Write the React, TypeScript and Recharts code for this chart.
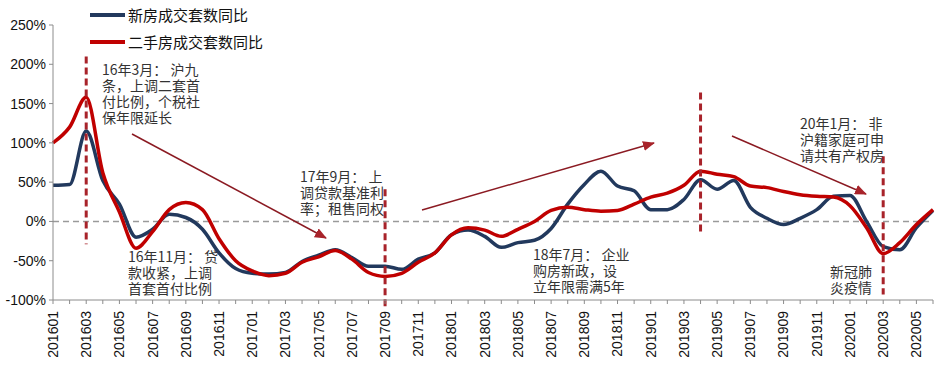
import React from 'react';
import { LineChart, Line, XAxis, YAxis, ReferenceLine } from 'recharts';

const months = [
  '201601', '201602', '201603', '201604', '201605', '201606', '201607', '201608', '201609', '201610', '201611', '201612',
  '201701', '201702', '201703', '201704', '201705', '201706', '201707', '201708', '201709', '201710', '201711', '201712',
  '201801', '201802', '201803', '201804', '201805', '201806', '201807', '201808', '201809', '201810', '201811', '201812',
  '201901', '201902', '201903', '201904', '201905', '201906', '201907', '201908', '201909', '201910', '201911', '201912',
  '202001', '202002', '202003', '202004', '202005', '202006',
];

// 新房成交套数同比 (%)
const newHouse = [
  46, 47, 115, 52, 22, -20, -10, 9, 5, -10, -40, -60,
  -66, -67, -65, -51, -43, -36, -46, -57, -57, -61, -48, -40,
  -17, -11, -19, -33, -27, -24, -9, 22, 47, 64, 45, 39,
  15, 15, 28, 53, 41, 52, 18, 4, -4, 4, 15, 32,
  33, 0, -32, -36, -8, 14,
];

// 二手房成交套数同比 (%)
const secondHand = [
  100, 120, 158, 62, 12, -34, -13, 15, 24, 15, -22, -50,
  -63, -69, -66, -52, -45, -37, -48, -65, -70, -66, -52, -40,
  -17, -8, -11, -19, -10, 0, 14, 18, 15, 13, 14, 22,
  31, 36, 46, 64, 60, 57, 45, 43, 38, 34, 32, 31,
  20, -8, -41, -27, -4, 15,
];

const yTicks = [-100, -50, 0, 50, 100, 150, 200, 250];

const seriesNames = ['新房成交套数同比', '二手房成交套数同比'];

// policy event markers: month, top value, bottom value
const eventLines = [
  { month: '201603', top: 210, bottom: -29 },
  { month: '201709', top: 41, bottom: -110 },
  { month: '201904', top: 164, bottom: -17 },
  { month: '202003', top: 83, bottom: -93 },
];

const notes = [
  { x: 102, y: 75, lines: ['16年3月： 沪九', '条，上调二套首', '付比例，个税社', '保年限延长'] },
  { x: 128, y: 262, lines: ['16年11月： 贷', '款收紧，上调', '首套首付比例'] },
  { x: 300, y: 182, lines: ['17年9月： 上', '调贷款基准利', '率；租售同权'] },
  { x: 533, y: 260, lines: ['18年7月： 企业', '购房新政，设', '立年限需满5年'] },
  { x: 800, y: 129, lines: ['20年1月： 非', '沪籍家庭可申', '请共有产权房'] },
  { x: 830, y: 277, lines: ['新冠肺', '炎疫情'] },
];

const arrows = [
  { x1: 132, y1: 134, x2: 326, y2: 238 },
  { x1: 422, y1: 210, x2: 654, y2: 143 },
  { x1: 732, y1: 136, x2: 866, y2: 194 },
];

const BLUE = '#22395d';
const RED = '#c00000';
const EVENT = '#a8232a';
const AXIS = '#8c8c8c';

const data = months.map((m, i) => ({ month: m, newHouse: newHouse[i], secondHand: secondHand[i] }));

const XTick = ({ x, y, payload }: any) => {
  if (months.indexOf(payload.value) % 2 !== 0) return null;
  const ty = y + 5;
  return (
    <text x={x} y={ty} transform={`rotate(-90 ${x} ${ty})`} textAnchor="end" dy="0.35em"
      fontSize={14} fontFamily="'Liberation Sans', Arial, sans-serif" fill="#111">
      {payload.value}
    </text>
  );
};

const LegendBox = () => (
  <div style={{ position: 'absolute', left: 90, top: 1, fontFamily: "'Noto Sans CJK SC', sans-serif", fontSize: 15, color: '#111' }}>
    {[BLUE, RED].map((c, i) => (
      <div key={c} style={{ display: 'flex', alignItems: 'center', height: 27 }}>
        <svg width={36} height={8}><line x1={0} y1={4} x2={35} y2={4} stroke={c} strokeWidth={4} /></svg>
        <span style={{ marginLeft: 2 }}>{seriesNames[i]}</span>
      </div>
    ))}
  </div>
);

export default function App() {
  return (
    <div style={{ position: 'absolute', left: 0, top: 0, width: 944, height: 369, background: '#fff' }}>
      <LineChart width={944} height={369} data={data} margin={{ top: 25, right: 11, left: 0, bottom: 0 }}>
        <XAxis dataKey="month" interval={0} height={69} tick={<XTick />} tickSize={4} tickMargin={2}
          stroke={AXIS} axisLine={{ stroke: AXIS }} tickLine={{ stroke: AXIS }} />
        <YAxis domain={[-100, 250]} ticks={yTicks} width={53} tickFormatter={(v: number) => `${v}%`}
          tickSize={4} tickMargin={3} stroke={AXIS} interval={0}
          tick={{ fill: '#111', fontSize: 14, fontFamily: "'Liberation Sans', Arial, sans-serif" }} />
        <ReferenceLine y={0} stroke="#9a9a9a" strokeWidth={1.5} strokeDasharray="6 4" />
        <Line type="monotone" dataKey="newHouse" name={seriesNames[0]} stroke={BLUE} strokeWidth={3.5}
          dot={false} activeDot={false} isAnimationActive={false} />
        <Line type="monotone" dataKey="secondHand" name={seriesNames[1]} stroke={RED} strokeWidth={3.5}
          dot={false} activeDot={false} isAnimationActive={false} />
        {eventLines.map((e) => (
          <ReferenceLine key={e.month} ifOverflow="visible" stroke={EVENT} strokeWidth={3} strokeDasharray="7 4"
            segment={[{ x: e.month, y: e.top }, { x: e.month, y: e.bottom }]} />
        ))}
      </LineChart>
      <LegendBox />
      <svg width={944} height={369} style={{ position: 'absolute', left: 0, top: 0, pointerEvents: 'none' }}>
        <defs>
          <marker id="arrowHead" markerWidth="12" markerHeight="10" refX="11" refY="5" orient="auto" markerUnits="userSpaceOnUse">
            <path d="M0,0 L12,5 L0,10 z" fill={EVENT} />
          </marker>
        </defs>
        {arrows.map((a, i) => (
          <line key={i} x1={a.x1} y1={a.y1} x2={a.x2} y2={a.y2} stroke="#8b1a22" strokeWidth={1.5} markerEnd="url(#arrowHead)" />
        ))}
        {notes.map((n, i) =>
          n.lines.map((l, j) => (
            <text key={`${i}-${j}`} x={n.x} y={n.y + j * 16} fontSize={14} fill="#333"
              fontFamily="'Noto Sans CJK SC', sans-serif">
              {l}
            </text>
          ))
        )}
      </svg>
    </div>
  );
}
